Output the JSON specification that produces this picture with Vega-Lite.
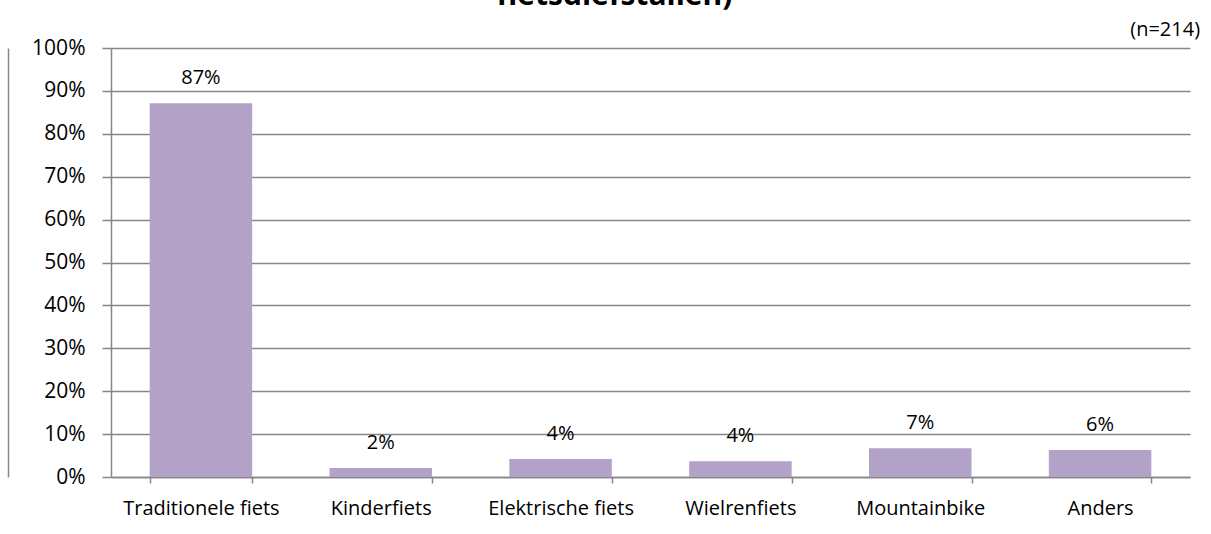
{
  "$schema": "https://vega.github.io/schema/vega-lite/v6.json",
  "width": 1079,
  "height": 429,
  "autosize": {"type": "none"},
  "padding": {"left": 111, "top": 48, "right": 21, "bottom": 57},
  "background": "white",
  "title": {"text": "fietsdiefstallen)", "fontSize": 30, "font": "Open Sans", "fontWeight": "bold", "color": "#000000", "anchor": "middle", "offset": 9, "dx": -36},
  "config": {
    "font": "Open Sans",
    "view": {"stroke": null}
  },
  "data": {
    "values": [
      {"type": "Traditionele fiets", "pct": 0.871},
      {"type": "Kinderfiets", "pct": 0.021},
      {"type": "Elektrische fiets", "pct": 0.042},
      {"type": "Wielrenfiets", "pct": 0.037},
      {"type": "Mountainbike", "pct": 0.067},
      {"type": "Anders", "pct": 0.063}
    ]
  },
  "encoding": {
    "x": {"field": "type", "type": "nominal", "sort": null,
      "scale": {"paddingInner": 0.43, "paddingOuter": 0.215},
      "axis": {"title": null, "labelAngle": 0, "labelFontSize": 20, "labelColor": "#000000", "labelPadding": 15, "tickBand": "extent", "tickSize": 6, "tickColor": "#868686", "domainColor": "#868686", "domainWidth": 1.5, "tickWidth": 1.5}}
  },
  "layer": [
    {"mark": {"type": "bar", "color": "#B3A2C7"},
      "encoding": {
        "y": {"field": "pct", "type": "quantitative",
          "scale": {"domain": [0, 1], "nice": false},
          "axis": {"orient": "left", "title": null, "format": ".0%", "values": [0, 0.1, 0.2, 0.3, 0.4, 0.5, 0.6, 0.7, 0.8, 0.9, 1], "labelFontSize": 21, "labelColor": "#000000", "tickSize": 9, "labelPadding": 17, "tickColor": "#868686", "domainColor": "#868686", "domainWidth": 1.5, "tickWidth": 1.5, "grid": true, "gridColor": "#868686", "gridWidth": 1.5}}
      }},
    {"mark": {"type": "text", "baseline": "alphabetic", "dy": -19, "fontSize": 20, "color": "#000000"},
      "encoding": {
        "y": {"field": "pct", "type": "quantitative", "axis": null},
        "text": {"field": "pct", "format": ".0%"}
      }},
    {"data": {"values": [{"type": "Anders", "pct": 1, "note": "(n=214)"}]},
      "mark": {"type": "text", "align": "right", "baseline": "alphabetic", "dx": 100, "dy": -12, "fontSize": 20, "color": "#000000"},
      "encoding": {
        "text": {"field": "note"},
        "y": {"field": "pct", "type": "quantitative", "axis": {"orient": "left", "offset": 103, "labels": false, "ticks": false, "grid": false, "title": null, "domainColor": "#868686", "domainWidth": 1.5}}
      }}
  ],
  "resolve": {"axis": {"y": "independent"}}
}
